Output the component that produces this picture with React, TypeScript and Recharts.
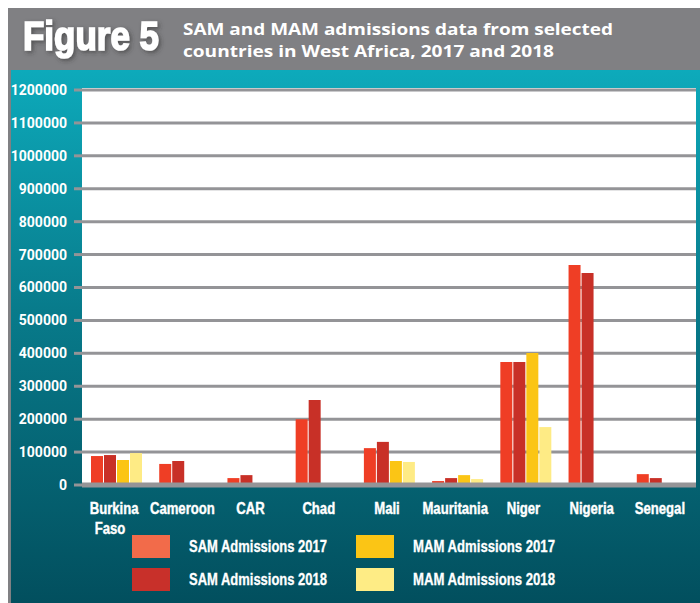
import { BarChart, Bar, XAxis, YAxis, CartesianGrid } from "recharts"

const categories = [
  "Burkina Faso",
  "Cameroon",
  "CAR",
  "Chad",
  "Mali",
  "Mauritania",
  "Niger",
  "Nigeria",
  "Senegal",
]

const sam2017 = [88000, 64000, 21000, 200000, 112000, 12000, 374000, 668000, 33000]
const sam2018 = [91000, 73000, 30000, 258000, 131000, 21000, 374000, 644000, 21000]
const mam2017 = [76000, null, null, null, 73000, 30000, 401000, null, null]
const mam2018 = [97000, null, null, null, 70000, 18000, 176000, null, null]

const yTicks = [
  0, 100000, 200000, 300000, 400000, 500000, 600000, 700000, 800000, 900000, 1000000, 1100000,
  1200000,
]

const series = [
  { key: "sam2017", label: "SAM Admissions 2017", color: "#ef3e25", swatch: "#f26b4a" },
  { key: "sam2018", label: "SAM Admissions 2018", color: "#c83027", swatch: "#c8302a" },
  { key: "mam2017", label: "MAM Admissions 2017", color: "#fbc515", swatch: "#fbc515" },
  { key: "mam2018", label: "MAM Admissions 2018", color: "#feeb85", swatch: "#feec85" },
]

const data = categories.map((name, i) => ({
  name,
  sam2017: sam2017[i],
  sam2018: sam2018[i],
  mam2017: mam2017[i],
  mam2018: mam2018[i],
}))

// no narrow font installed, so Liberation Sans gets squeezed horizontally
const SANS = "'Liberation Sans', Arial, sans-serif"
const SQUEEZE = 0.82
const GRID = "#949497"

// country names, long ones wrap onto two lines
function CountryTick(props: any) {
  const { x, y, payload } = props
  const words = String(payload.value).split(" ")
  return (
    <g transform={`translate(${x - 2},${y + 29}) scale(${SQUEEZE},1)`}>
      <text
        textAnchor="middle"
        fill="#fff"
        stroke="#fff"
        strokeWidth={0.4}
        fontFamily={SANS}
        fontWeight="bold"
        fontSize={16}
      >
        {words.map((w: string, i: number) => (
          <tspan key={w} x={i > 0 ? -5 : 0} dy={i === 0 ? 0 : 20}>
            {w}
          </tspan>
        ))}
      </text>
    </g>
  )
}

export default function App() {
  return (
    <div style={{ position: "absolute", left: 0, top: 0, width: 700, height: 603, background: "#fff" }}>
      {/* frame, header band and teal panel */}
      <svg width={700} height={603} style={{ position: "absolute", left: 0, top: 0 }}>
        <defs>
          <linearGradient id="teal" x1="0" y1="0" x2="0" y2="1">
            <stop offset="0%" stopColor="#0daabb" />
            <stop offset="45%" stopColor="#087b8b" />
            <stop offset="100%" stopColor="#024f5e" />
          </linearGradient>
          <filter id="shadow" x="-10%" y="-10%" width="130%" height="140%">
            <feDropShadow dx="2" dy="2" stdDeviation="2" floodColor="#333" floodOpacity="0.6" />
          </filter>
        </defs>
        <rect x={8} y={8} width={692} height={595} fill="#808083" />
        <rect x={11} y={70} width={689} height={533} fill="url(#teal)" />
        <rect x={82} y={88} width={614} height={4} fill="#fff" />
        <text
          x={23}
          y={50}
          fill="#fff"
          stroke="#fff"
          strokeWidth={1.6}
          fontFamily={SANS}
          fontWeight="bold"
          fontSize={40}
          textLength={136}
          lengthAdjust="spacingAndGlyphs"
          filter="url(#shadow)"
        >
          Figure 5
        </text>
        <text
          x={183}
          y={35}
          fill="#fff"
          fontFamily="'Open Sans', sans-serif"
          fontWeight="bold"
          fontSize={16.5}
          textLength={430}
          lengthAdjust="spacingAndGlyphs"
        >
          SAM and MAM admissions data from selected
        </text>
        <text
          x={183}
          y={57}
          fill="#fff"
          fontFamily="'Open Sans', sans-serif"
          fontWeight="bold"
          fontSize={16.5}
          textLength={371}
          lengthAdjust="spacingAndGlyphs"
        >
          countries in West Africa, 2017 and 2018
        </text>
      </svg>

      <div style={{ position: "absolute", left: 0, top: 0 }}>
        <BarChart
          width={700}
          height={603}
          data={data}
          margin={{ top: 90, right: 4, left: 0, bottom: 0 }}
          barSize={12}
          barGap={1}
        >
          <CartesianGrid vertical={false} stroke={GRID} strokeWidth={3} fill="#fff" />
          <YAxis
            width={82}
            domain={[0, 1200000]}
            ticks={yTicks}
            interval={0}
            axisLine={false}
            tickLine={{ stroke: GRID, strokeWidth: 3 }}
            tickSize={8}
            tickMargin={7}
            tick={{ fill: "#fff", fontFamily: "Roboto, sans-serif", fontWeight: "bold", fontSize: 14 }}
          />
          <XAxis
            dataKey="name"
            height={118}
            interval={0}
            tickLine={false}
            tickSize={0}
            tickMargin={0}
            axisLine={{ stroke: GRID, strokeWidth: 5 }}
            tick={<CountryTick />}
          />
          {series.map((s) => (
            <Bar key={s.key} dataKey={s.key} name={s.label} fill={s.color} isAnimationActive={false} />
          ))}
        </BarChart>
      </div>

      {/* legend */}
      <svg width={700} height={603} style={{ position: "absolute", left: 0, top: 0, pointerEvents: "none" }}>
        {series.map((s, i) => {
          const col = i < 2 ? 0 : 1
          const row = i % 2
          const sx = col === 0 ? 132 : 356
          const sy = row === 0 ? 535 : 568
          return (
            <g key={s.key}>
              <rect x={sx} y={sy} width={38} height={23} fill={s.swatch} />
              <text
                x={sx + 57}
                y={sy + 17}
                fill="#fff"
                stroke="#fff"
                strokeWidth={0.3}
                fontFamily={SANS}
                fontWeight="bold"
                fontSize={16}
                textLength={col === 0 ? 138 : 142}
                lengthAdjust="spacingAndGlyphs"
              >
                {s.label}
              </text>
            </g>
          )
        })}
      </svg>
    </div>
  )
}
